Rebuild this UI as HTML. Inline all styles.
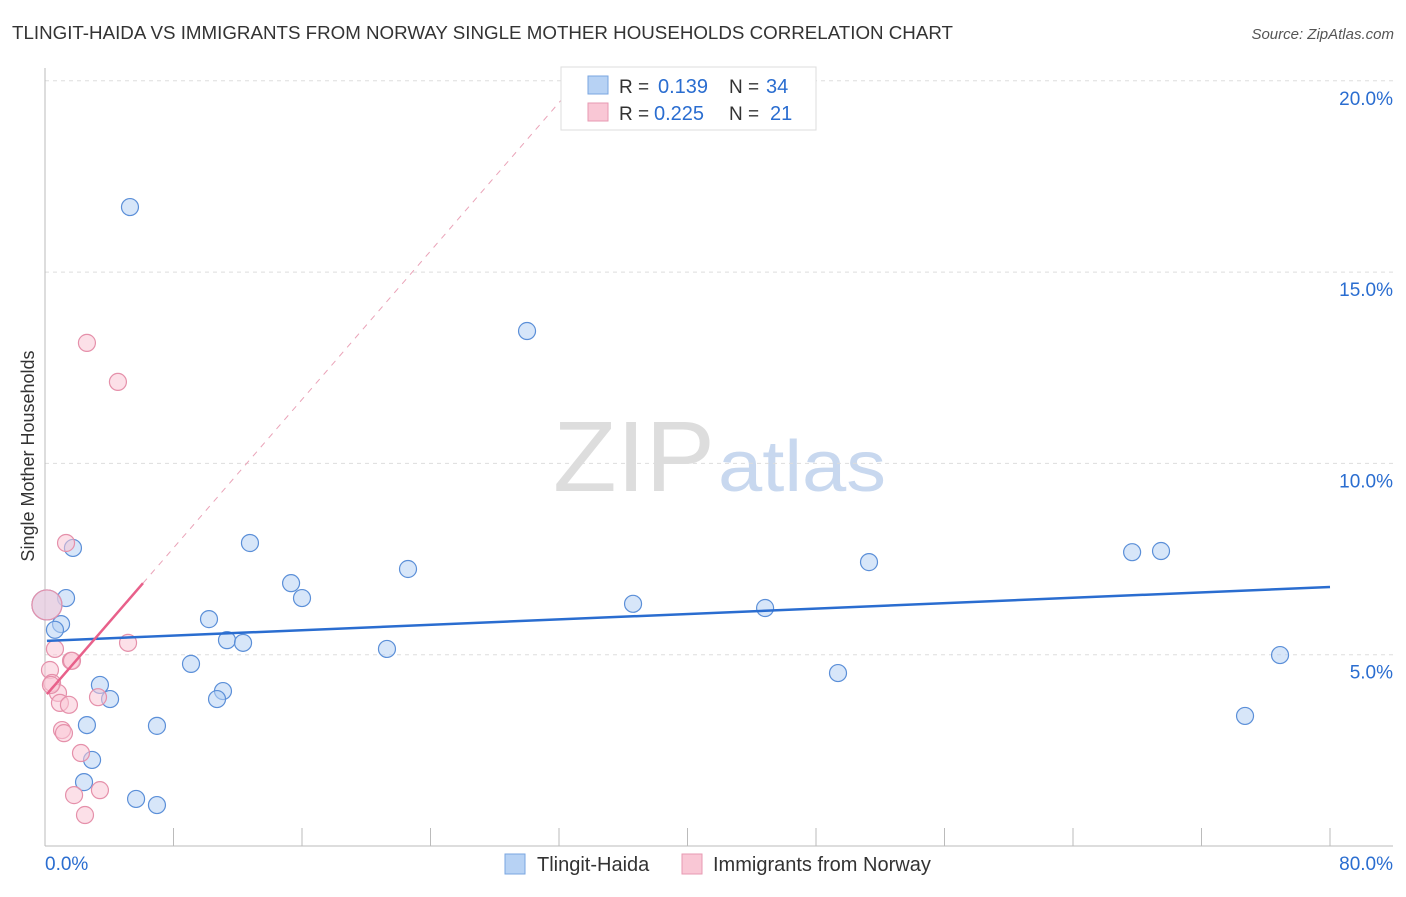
<!DOCTYPE html>
<html><head><meta charset="utf-8"><style>
body{margin:0;background:#fff;font-family:"Liberation Sans",sans-serif}
svg text{font-family:"Liberation Sans",sans-serif}
</style></head><body>
<svg id="c" width="1406" height="892">
<text x="12" y="39" font-size="18" fill="#333" textLength="941" lengthAdjust="spacingAndGlyphs">TLINGIT-HAIDA VS IMMIGRANTS FROM NORWAY SINGLE MOTHER HOUSEHOLDS CORRELATION CHART</text>
<text x="1394" y="39" font-size="15" fill="#555" text-anchor="end" font-style="italic">Source: ZipAtlas.com</text>
<text x="553" y="491" font-size="100" fill="#ddd" font-family="Liberation Serif" textLength="162" lengthAdjust="spacingAndGlyphs">ZIP</text>
<text x="718" y="491" font-size="72" fill="#c8d8ef" textLength="168" lengthAdjust="spacingAndGlyphs">atlas</text>
<text transform="translate(34,456) rotate(-90)" font-size="18" fill="#333" text-anchor="middle">Single Mother Households</text>
<g id="grid"></g><g id="marks"></g>
<g>
<rect x="561" y="67" width="255" height="63" fill="#fff" stroke="#ddd"/>
<rect x="588" y="76" width="20" height="18" fill="#b7d2f4" stroke="#7aa6e0"/>
<rect x="588" y="103" width="20" height="18" fill="#f9c7d5" stroke="#e79ab2"/>
<text x="619" y="93" font-size="19" fill="#333">R =</text>
<text x="658" y="93" font-size="20" fill="#2a6dd0">0.139</text>
<text x="729" y="93" font-size="19" fill="#333">N =</text>
<text x="766" y="93" font-size="20" fill="#2a6dd0">34</text>
<text x="619" y="120" font-size="19" fill="#333">R =</text>
<text x="654" y="120" font-size="20" fill="#2a6dd0">0.225</text>
<text x="729" y="120" font-size="19" fill="#333">N =</text>
<text x="770" y="120" font-size="20" fill="#2a6dd0">21</text>
</g>
<g>
<rect x="505" y="854" width="20" height="20" fill="#b7d2f4" stroke="#7aa6e0"/>
<text x="537" y="871" font-size="20" fill="#333">Tlingit-Haida</text>
<rect x="682" y="854" width="20" height="20" fill="#f9c7d5" stroke="#e79ab2"/>
<text x="713" y="871" font-size="20" fill="#333">Immigrants from Norway</text>
</g>
</svg>
<script>
const xTicks=[0,80];
const yTicks=[5,10,15,20];
const blueX=[5.29,30.01,1.74,12.76,22.60,15.32,16.00,1.31,0.12,1.00,0.62,10.21,11.33,12.33,21.29,9.09,3.42,4.05,11.08,10.71,6.97,2.61,2.93,2.43,5.67,6.97,36.61,44.83,51.30,49.37,67.68,69.48,76.89,74.71];
const blueY=[16.70,13.46,7.79,7.92,7.24,6.87,6.48,6.48,6.30,5.80,5.65,5.93,5.38,5.31,5.15,4.76,4.21,3.84,4.05,3.84,3.14,3.16,2.25,1.67,1.23,1.07,6.33,6.22,7.42,4.52,7.68,7.71,4.99,3.40];
const pinkX=[2.61,4.54,1.31,0.12,0.62,1.62,5.17,0.31,0.44,0.81,0.93,1.49,3.30,1.06,1.18,2.24,1.81,3.42,2.49,1.68,0.37];
const pinkY=[13.15,12.13,7.92,6.30,5.15,4.84,5.31,4.60,4.26,4.00,3.74,3.69,3.89,3.03,2.95,2.43,1.33,1.46,0.81,4.84,4.21];
const blueTrend=[5.36,6.77];
const pinkTrend=[0.485,3.91];
const xs=v=>45+v/80*1285, ys=v=>846-v/5*191.3;
const NS='http://www.w3.org/2000/svg';
const grid=document.getElementById('grid'),marks=document.getElementById('marks');
function mk(p,t,a){const e=document.createElementNS(NS,t);for(const k in a)e.setAttribute(k,a[k]);p.appendChild(e);return e;}
yTicks.forEach(v=>{
 const l=mk(grid,'line',{x1:45,x2:1393,y1:ys(v),y2:ys(v),stroke:'#ddd','stroke-dasharray':'4,4'});
 
 
 const t=mk(grid,'text',{x:1393,y:ys(v)+24,'font-size':19,fill:'#2a6dd0','text-anchor':'end'});t.textContent=v.toFixed(1)+'%';
 
 
});
mk(grid,'line',{x1:45,x2:45,y1:68,y2:846,stroke:'#bbb'});
mk(grid,'line',{x1:45,x2:1393,y1:846,y2:846,stroke:'#bbb'});
for(let i=1;i<=10;i++){const x=45+128.5*i;mk(grid,'line',{x1:x,x2:x,y1:828,y2:846,stroke:'#bbb'});}
xTicks.forEach((v,i)=>{const t=mk(grid,'text',{x:i?1393:45,y:870,'font-size':19,fill:'#2a6dd0','text-anchor':i?'end':'start'});t.textContent=v.toFixed(1)+'%';
 
 });
const px0=0.12,px1=6.1;const pyf=x=>pinkTrend[0]*x+pinkTrend[1];
const xEnd=(20-pinkTrend[1])/pinkTrend[0];
mk(marks,'line',{x1:xs(px1),y1:ys(pyf(px1)),x2:xs(xEnd),y2:ys(20),stroke:'#eaa3b8','stroke-dasharray':'6,6','stroke-width':1});
function dots(X,Y,fill,stroke,name){X.forEach((x,i)=>{const big=(x<0.2);
 const c=mk(marks,'circle',{cx:xs(x),cy:ys(Y[i]),r:big?15:8.5,fill:fill,'fill-opacity':0.55,stroke:stroke,'stroke-width':1.2});
 
 });}
dots(blueX,blueY,'#b7d2f4','#5b8fd8','tlingit-haida-point');
dots(pinkX,pinkY,'#f9c7d5','#e590aa','norway-point');
const bl=mk(marks,'line',{x1:xs(0.12),y1:ys(blueTrend[0]),x2:xs(80),y2:ys(blueTrend[1]),stroke:'#2a6dd0','stroke-width':2.5});


const pl=mk(marks,'line',{x1:xs(px0),y1:ys(pyf(px0)),x2:xs(px1),y2:ys(pyf(px1)),stroke:'#e8608a','stroke-width':2.5});


</script>
</body></html>
